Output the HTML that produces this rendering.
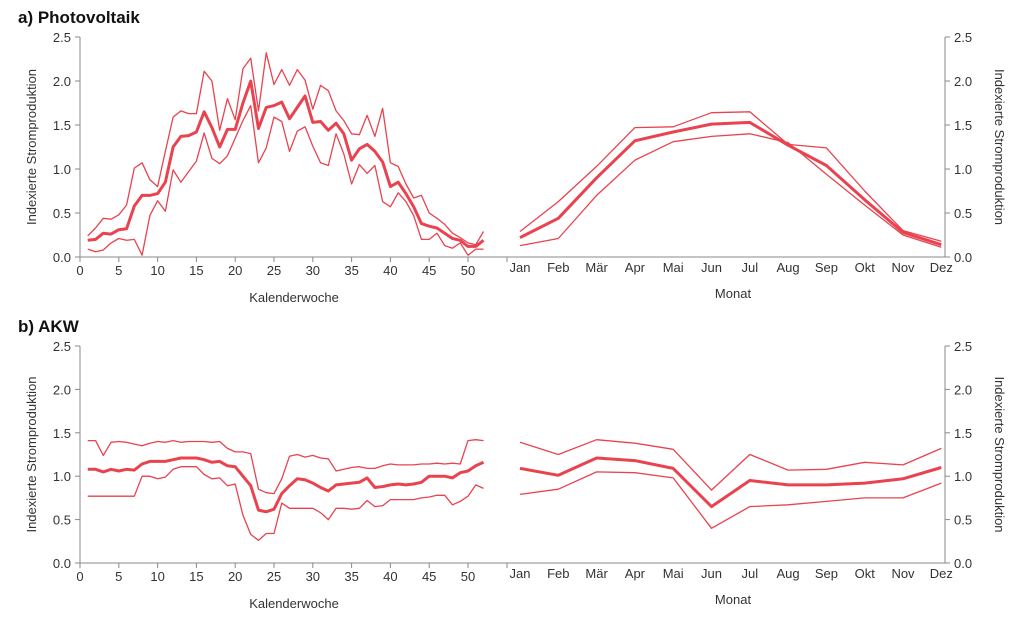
<!DOCTYPE html>
<html><head><meta charset="utf-8"><style>
html,body{margin:0;padding:0;background:#fff;}
svg{display:block;font-family:"Liberation Sans",sans-serif;}
</style></head><body>
<svg id="s" width="1024" height="626" xmlns="http://www.w3.org/2000/svg">
<text x="18" y="23" font-size="17" font-weight="bold" fill="#111">a) Photovoltaik</text>
<text x="18" y="332" font-size="17" font-weight="bold" fill="#111">b) AKW</text>
</svg>
<script>
const S=document.getElementById('s');const NS='http://www.w3.org/2000/svg';
function el(t,a,txt){const e=document.createElementNS(NS,t);for(const k in a)e.setAttribute(k,a[k]);if(txt!==undefined)e.textContent=txt;S.appendChild(e);return e;}
const RED='#e8434f',AX='#888',TX='#333';
const pvU=[.24,.33,.44,.43,.48,.59,1.01,1.07,.88,.80,1.20,1.59,1.66,1.63,1.63,2.11,2.00,1.44,1.80,1.56,2.14,2.26,1.66,2.32,1.96,2.13,1.95,2.13,2.01,1.68,1.95,1.89,1.66,1.55,1.40,1.39,1.61,1.37,1.69,1.07,1.03,.83,.67,.70,.50,.44,.37,.27,.22,.16,.14,.29];
const pvM=[.19,.20,.27,.26,.31,.32,.58,.70,.70,.72,.85,1.25,1.37,1.38,1.42,1.65,1.47,1.25,1.45,1.45,1.75,2.0,1.46,1.70,1.72,1.76,1.57,1.70,1.83,1.53,1.54,1.44,1.52,1.40,1.10,1.23,1.28,1.20,1.08,.80,.85,.72,.57,.38,.35,.33,.27,.21,.19,.12,.12,.19];
const pvL=[.09,.06,.08,.16,.21,.19,.20,.02,.47,.64,.52,.99,.85,.97,1.09,1.41,1.12,1.06,1.15,1.35,1.55,1.72,1.07,1.24,1.59,1.54,1.20,1.43,1.48,1.26,1.07,1.04,1.40,1.17,.83,1.05,.95,1.04,.63,.57,.73,.63,.47,.20,.20,.27,.13,.10,.16,.02,.09,.09];
const pmU=[.29,.63,1.03,1.47,1.48,1.64,1.65,1.28,1.24,.75,.30,.18],pmM=[.22,.44,.90,1.32,1.42,1.51,1.53,1.27,1.04,.65,.28,.14],pmL=[.13,.21,.70,1.10,1.31,1.37,1.40,1.30,.94,.59,.25,.11];
const akU=[1.41,1.41,1.24,1.39,1.40,1.39,1.37,1.35,1.38,1.40,1.39,1.41,1.39,1.40,1.40,1.40,1.39,1.40,1.32,1.28,1.28,1.26,.85,.81,.80,.97,1.23,1.25,1.22,1.24,1.21,1.20,1.06,1.08,1.10,1.11,1.09,1.09,1.12,1.14,1.13,1.13,1.13,1.14,1.14,1.15,1.14,1.15,1.14,1.41,1.42,1.41];
const akM=[1.08,1.08,1.05,1.08,1.06,1.08,1.07,1.14,1.17,1.17,1.17,1.19,1.21,1.21,1.21,1.19,1.16,1.17,1.12,1.11,1.00,.89,.61,.59,.62,.80,.89,.97,.96,.92,.87,.83,.90,.91,.92,.93,.98,.87,.88,.90,.91,.90,.91,.93,1.00,1.00,1.00,.98,1.04,1.06,1.12,1.16];
const akL=[.77,.77,.77,.77,.77,.77,.77,1.00,1.00,.97,.99,1.08,1.11,1.11,1.11,1.02,.97,.98,.89,.91,.55,.33,.26,.34,.34,.69,.63,.63,.63,.63,.58,.50,.63,.63,.62,.63,.72,.65,.66,.73,.73,.73,.73,.75,.76,.78,.78,.67,.71,.77,.90,.86];
const amU=[1.39,1.25,1.42,1.38,1.31,.84,1.25,1.07,1.08,1.16,1.13,1.32],amM=[1.09,1.01,1.21,1.18,1.09,.65,.95,.90,.90,.92,.97,1.10],amL=[.79,.85,1.05,1.04,.98,.40,.65,.67,.71,.75,.75,.92];
const months=['Jan','Feb','Mär','Apr','Mai','Jun','Jul','Aug','Sep','Okt','Nov','Dez'];
function panel(y0,y25,W,M){
  const sy=v=>y0-(y0-y25)*v/2.5;
  const wx=w=>80+w*7.76, mx=i=>520+i*38.3;
  el('line',{x1:80,y1:y25,x2:80,y2:y0,stroke:AX,'stroke-width':1});
  el('line',{x1:80,y1:y0,x2:945,y2:y0,stroke:AX,'stroke-width':1});
  el('line',{x1:945,y1:y25,x2:945,y2:y0,stroke:AX,'stroke-width':1});
  for(let i=0;i<=5;i++){const v=i*.5,y=sy(v);
    el('line',{x1:75,y1:y,x2:80,y2:y,stroke:AX});el('line',{x1:945,y1:y,x2:950,y2:y,stroke:AX});
    el('text',{x:71,y:y+5,'font-size':13,fill:TX,'text-anchor':'end'},v.toFixed(1));
    el('text',{x:954,y:y+5,'font-size':13,fill:TX},v.toFixed(1));}
  for(let w=0;w<=50;w+=5){const x=wx(w);el('line',{x1:x,y1:y0,x2:x,y2:y0+5,stroke:AX});
    el('text',{x:x,y:y0+18,'font-size':13,fill:TX,'text-anchor':'middle'},w);}
  el('line',{x1:507,y1:y0,x2:507,y2:y0+5,stroke:AX});
  months.forEach((m,i)=>el('text',{x:mx(i),y:y0+15,'font-size':13,fill:TX,'text-anchor':'middle'},m));
  el('text',{x:294,y:y0+45,'font-size':13,fill:TX,'text-anchor':'middle'},'Kalenderwoche');
  el('text',{x:733,y:y0+41,'font-size':13,fill:TX,'text-anchor':'middle'},'Monat');
  const cy=(y0+y25)/2;
  el('text',{x:0,y:0,'font-size':13,fill:TX,'text-anchor':'middle',transform:'translate(36,'+cy+') rotate(-90)'},'Indexierte Stromproduktion');
  el('text',{x:0,y:0,'font-size':13,fill:TX,'text-anchor':'middle',transform:'translate(995,'+cy+') rotate(90)'},'Indexierte Stromproduktion');
  const pl=(arr,fx,sw)=>el('polyline',{points:arr.map((v,i)=>fx(i)+','+sy(v).toFixed(1)).join(' '),fill:'none',stroke:RED,'stroke-width':sw,'stroke-linejoin':'round'});
  pl(W[0],i=>wx(i+1),1.3);pl(W[2],i=>wx(i+1),1.3);pl(W[1],i=>wx(i+1),3);
  pl(M[0],mx,1.3);pl(M[2],mx,1.3);pl(M[1],mx,3);
}
panel(257,37,[pvU,pvM,pvL],[pmU,pmM,pmL]);
panel(563,346,[akU,akM,akL],[amU,amM,amL]);
</script>
</body></html>
